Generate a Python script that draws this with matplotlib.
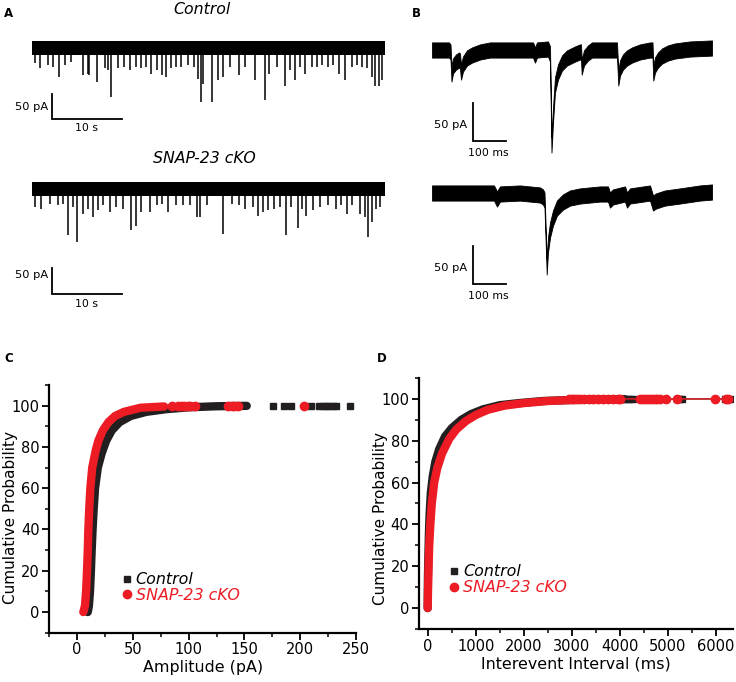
import numpy as np
import matplotlib.pyplot as plt
from matplotlib.lines import Line2D

VERMELHO = '#ED1C24'
PRETO = '#231F20'

# ---------------------------------------------------------------------------
# Dados
# ---------------------------------------------------------------------------
# A - eventos espontâneos (tempo em s, amplitude em pA), traço Controle
ctrl_t = [0.47, 1.1, 2.3, 3.0, 3.8, 4.7, 5.6, 7.3, 8.0, 8.2, 9.3, 10.4, 10.9,
          11.3, 12.3, 13.2, 14.0, 14.9, 15.6, 16.3, 17.0, 17.8, 18.5, 19.2,
          19.9, 20.6, 21.3, 22.3, 23.2, 23.7, 24.1, 24.4, 25.7, 26.6, 27.3,
          28.3, 29.5, 30.4, 31.9, 33.3, 33.8, 35.0, 36.1, 36.9, 37.5, 38.3,
          39.0, 40.0, 40.7, 41.4, 42.3, 43.0, 43.8, 44.7, 45.7, 46.4, 47.1,
          47.8, 48.5, 49.0, 49.5, 50.0]
ctrl_amp = [-31, -41, -35, -38, -59, -35, -28, -55, -52, -55, -69, -41, -45,
            -99, -41, -38, -45, -38, -41, -38, -52, -45, -55, -59, -41, -38,
            -38, -35, -38, -62, -110, -72, -110, -65, -59, -38, -55, -38, -65,
            -106, -52, -38, -76, -45, -65, -38, -52, -38, -38, -35, -38, -35,
            -52, -65, -38, -35, -38, -41, -59, -76, -76, -65]

# A - traço SNAP-23 cKO
cko_t = [0.4, 1.3, 2.5, 3.7, 4.4, 5.1, 5.9, 6.4, 7.3, 8.0, 8.7, 9.4, 10.1,
         11.1, 12.0, 13.0, 14.2, 14.9, 15.6, 16.8, 17.8, 18.5, 19.4, 20.6,
         21.6, 22.5, 23.5, 24.0, 25.0, 27.3, 28.5, 29.5, 30.4, 31.5, 32.3,
         33.0, 33.7, 34.6, 35.4, 36.3, 37.0, 38.0, 38.6, 39.2, 40.1, 41.1,
         42.3, 43.4, 44.2, 45.0, 45.7, 46.9, 47.6, 48.0, 48.5, 49.2, 49.7]
cko_amp = [-37, -40, -30, -33, -30, -94, -37, -108, -50, -40, -57, -43, -33,
           -47, -37, -40, -84, -74, -47, -47, -33, -30, -47, -33, -33, -33,
           -57, -57, -33, -91, -30, -33, -40, -37, -54, -47, -43, -40, -37,
           -94, -37, -78, -40, -54, -43, -37, -33, -40, -33, -50, -33, -50,
           -57, -98, -67, -40, -37]

# B - traços expandidos (tempo em ms, corrente média em pA)
b_ctrl_t = [0, 52, 56.6, 59.6, 64.2, 73.4, 82.6, 85.6, 88.7, 94.8, 107, 122.3,
            146.8, 177.4, 308.9, 315, 321, 354.7, 360.9, 365.4, 370, 376.1,
            385.3, 397.6, 412.8, 437.3, 452.6, 455.7, 457.8, 464.8, 477.1,
            489.3, 565.7, 569.7, 574.9, 584.1, 596.3, 611.6, 636.1, 666.7,
            674.3, 676.8, 682, 691.1, 703.4, 721.7, 743, 789, 856.3]
b_ctrl_i = [0, 0, -2.6, -31.6, -21, -15.8, -13.2, -14.5, -29, -18.4, -10.5,
            -6.6, -2.6, 0, 0, -6.6, 0, 1.3, -5.3, -125, -85.5, -46, -29, -17.1,
            -10.5, -5.3, -2.6, -2.6, -22.4, -10.5, -3.9, 0, 0, -36.8, -23.7,
            -15.8, -10.5, -6.6, -2.6, 0, 0, -30.3, -19.7, -13.2, -7.9, -3.9,
            -1.3, 1.3, 2.6]

b_cko_t = [0, 116.2, 189.6, 198.8, 208, 269.2, 330.3, 339.4, 344, 350.8,
           354.7, 360.9, 370, 382.3, 400.6, 422, 452.6, 513.8, 538.2, 544.3,
           553.5, 590.2, 596.3, 605.5, 666.7, 675.8, 685, 712.5, 758.4,
           819.6, 856.3]
b_cko_i = [1.3, 1.3, 1.3, -6.6, 0, 1.3, -1.3, -3.9, -7.9, -96, -67, -47.4,
           -31.6, -18.4, -10.5, -5.3, -2.6, 0, 0, -7.9, -3.9, 0, -7.9, -2.6,
           1.3, -11.8, -9.2, -5.3, -2.6, 1.3, 2.6]

# C - distribuição cumulativa das amplitudes (pA, %)
amp_ctrl_x = [9.5, 10.5, 11.5, 12.3, 13, 13.8, 14.8, 16, 18.5, 22, 26, 31, 38,
              48, 62, 80, 100, 125, 152]
amp_ctrl_y = [0, 3, 10, 20, 30, 40, 50, 60, 70, 77, 83, 88, 92, 95, 97, 98.3,
              99.2, 99.7, 99.9]
amp_ctrl_cauda = [176, 185, 192, 210, 217, 220, 223, 226, 229, 232, 245]

amp_cko_x = [5.5, 7, 8, 8.8, 9.5, 10, 10.8, 11.8, 13.5, 16.5, 19, 23, 28, 34,
             42, 57, 78]
amp_cko_y = [0, 3, 10, 20, 30, 40, 50, 60, 70, 78, 83, 88, 92, 95, 97, 99,
             99.6]
amp_cko_cauda = [85, 90, 93, 96, 99, 101, 106, 135, 139, 141, 144, 203]

# D - distribuição cumulativa dos intervalos entre eventos (ms, %)
iei_ctrl_x = [0, 5, 15, 25, 40, 65, 105, 160, 240, 360, 500, 700, 900, 1150,
              1500, 1900, 2400, 3000, 3600, 4100]
iei_ctrl_y = [0, 15, 25, 35, 45, 55, 63, 70, 76, 82, 86, 90, 92.7, 95, 97, 98,
              99, 99.5, 99.8, 99.9]
iei_ctrl_cauda = [4110, 4160, 4210, 4270, 5190, 5240, 5290, 6180, 6230, 6290]

iei_cko_x = [0, 8, 18, 32, 55, 85, 135, 200, 300, 450, 600, 800, 1000, 1250,
             1600, 2000, 2500, 2900]
iei_cko_y = [0, 10, 20, 30, 40, 50, 60, 67, 74, 81, 85.5, 89.5, 92.3, 94.8,
             96.8, 98, 99, 99.4]
iei_cko_cauda = [2950, 3000, 3050, 3100, 3170, 3250, 3350, 3450, 3550, 3650,
                 3750, 3850, 3950, 4000, 4420, 4480, 4540, 4600, 4660, 4720,
                 4780, 4830, 4950, 5180, 5980, 6200, 6256]

# ---------------------------------------------------------------------------
W, H = 736, 682
fig = plt.figure(figsize=(W / 100, H / 100), dpi=100)


def eixo_px(x0, y0, x1, y1):
    # cria um eixo a partir de coordenadas em pixels (origem no canto superior)
    return fig.add_axes([x0 / W, 1 - y1 / H, (x1 - x0) / W, (y1 - y0) / H])


def eixo_traco(caixa, ox, oy, px_x, px_y):
    x0, y0, x1, y1 = caixa
    ax = eixo_px(x0, y0, x1, y1)
    ax.set_xlim((x0 - ox) / px_x, (x1 - ox) / px_x)
    ax.set_ylim((oy - y1) / px_y, (oy - y0) / px_y)
    ax.axis('off')
    return ax


def barra_escala(ax, x, y, dx, dy, txt_y, txt_x, rot_y_pos, rot_x_pos):
    ax.plot([x, x, x + dx], [y + dy, y, y], color='black', lw=1.3,
            solid_joinstyle='miter')
    ax.text(rot_y_pos[0], rot_y_pos[1], txt_y, ha='right', va='center',
            fontsize=8.2)
    ax.text(rot_x_pos[0], rot_x_pos[1], txt_x, ha='center', va='center',
            fontsize=7.8)


def fig_text(px, py, s, **kw):
    fig.text(px / W, 1 - py / H, s, **kw)


# --- Painel A ---
ax_a1 = eixo_traco((0, 20, 400, 150), 32, 48, 7.0, 0.494)
ax_a1.fill_between([0, 50.4], -14, 15, color='black', lw=0)
ax_a1.vlines(ctrl_t, 0, ctrl_amp, color='black', lw=1.1)
barra_escala(ax_a1, 2.8, -143.7, 10, 50, '50 pA', '10 s', (2.3, -120), (7.8, -162))

ax_a2 = eixo_traco((0, 165, 400, 315), 32, 189, 7.0, 0.494)
ax_a2.fill_between([0, 50.4], -14, 15, color='black', lw=0)
ax_a2.vlines(cko_t, 0, cko_amp, color='black', lw=1.1)
barra_escala(ax_a2, 2.8, -212, 10, 52, '50 pA', '10 s', (2.3, -174), (7.8, -233))

# --- Painel B ---
ax_b1 = eixo_traco((400, 20, 736, 165), 432, 50, 0.327, 0.76)
ax_b1.fill_between(b_ctrl_t, np.array(b_ctrl_i) - 10, np.array(b_ctrl_i) + 10,
                   color='black', lw=0.6, edgecolor='black')
barra_escala(ax_b1, 126.3, -119.3, 100, 50, '50 pA', '100 ms', (106, -98.7), (172, -135))

ax_b2 = eixo_traco((400, 165, 736, 310), 432, 194, 0.327, 0.76)
ax_b2.fill_between(b_cko_t, np.array(b_cko_i) - 10, np.array(b_cko_i) + 10,
                   color='black', lw=0.6, edgecolor='black')
barra_escala(ax_b2, 126.3, -118.4, 100, 50, '50 pA', '100 ms', (106, -97.8), (172, -134))

fig_text(201.7, 9, 'Control', ha='center', va='center', fontsize=11.3, style='italic')
fig_text(204, 158.5, 'SNAP-23 cKO', ha='center', va='center', fontsize=11.3, style='italic')
for letra, (lx, ly) in {'A': (8.3, 13.3), 'B': (416.7, 13.3),
                        'C': (8.3, 358), 'D': (382, 358)}.items():
    fig_text(lx, ly, letra, ha='center', va='center', fontsize=8.5, weight='bold')


# --- Painéis C e D ---
def estilo_cdf(ax, xlab):
    for lado in ['top', 'right']:
        ax.spines[lado].set_visible(False)
    for lado in ['left', 'bottom']:
        ax.spines[lado].set_linewidth(1.6)
    ax.tick_params(which='major', direction='out', length=5, width=1.3,
                   labelsize=10.5, colors='black', pad=2)
    ax.tick_params(which='minor', direction='out', length=3, width=1.1)
    ax.set_ylim(-10, 110)
    ax.set_yticks(range(0, 101, 20))
    ax.set_yticks(range(-10, 111, 10), minor=True)
    ax.set_ylabel('Cumulative Probability', fontsize=11)
    ax.set_xlabel(xlab, fontsize=11.4, labelpad=2)


def legenda(ax, bbox):
    alcas = [Line2D([], [], ls='none', marker='s', ms=5, color=PRETO),
             Line2D([], [], ls='none', marker='o', ms=6, color=VERMELHO)]
    leg = ax.legend(alcas, ['Control', 'SNAP-23 cKO'], loc='lower left',
                    bbox_to_anchor=bbox, frameon=False, handlelength=0.5,
                    handletextpad=0.3, labelspacing=0.05, borderpad=0,
                    borderaxespad=0, prop={'size': 11.4, 'style': 'italic'})
    leg.get_texts()[1].set_color(VERMELHO)


ax_c = eixo_px(49.3, 385, 356, 632.7)
ax_c.plot(amp_ctrl_x, amp_ctrl_y, color=PRETO, lw=6, solid_capstyle='round')
ax_c.plot(amp_ctrl_cauda, [100] * len(amp_ctrl_cauda), ls='none', marker='s',
          ms=5, color=PRETO)
ax_c.plot(amp_cko_x, amp_cko_y, color=VERMELHO, lw=6, solid_capstyle='round')
ax_c.plot(amp_cko_cauda, [100] * len(amp_cko_cauda), ls='none', marker='o',
          ms=6, color=VERMELHO)
estilo_cdf(ax_c, 'Amplitude (pA)')
ax_c.set_xlim(-20, 250)
ax_c.set_xticks(range(0, 251, 50))
ax_c.set_xticks(range(-25, 251, 25), minor=True)
ax_c.yaxis.set_label_coords(-0.103, 0.465)
legenda(ax_c, (0.24, 0.12))

ax_d = eixo_px(419, 378, 732.7, 629)
ax_d.plot(iei_ctrl_x + iei_ctrl_cauda, iei_ctrl_y + [100] * len(iei_ctrl_cauda),
          color=PRETO, lw=1)
ax_d.plot(iei_ctrl_x, iei_ctrl_y, color=PRETO, lw=6, solid_capstyle='round')
ax_d.plot(iei_ctrl_cauda, [100] * len(iei_ctrl_cauda), ls='none', marker='s',
          ms=5, color=PRETO)
ax_d.plot(iei_cko_x + iei_cko_cauda, iei_cko_y + [100] * len(iei_cko_cauda),
          color=VERMELHO, lw=1)
ax_d.plot(iei_cko_x, iei_cko_y, color=VERMELHO, lw=6, solid_capstyle='round')
ax_d.plot(iei_cko_cauda, [100] * len(iei_cko_cauda), ls='none', marker='o',
          ms=6, color=VERMELHO)
estilo_cdf(ax_d, 'Interevent Interval (ms)')
ax_d.set_xlim(-181, 6347)
ax_d.set_xticks(range(0, 6001, 1000))
ax_d.set_xticks(range(0, 6001, 500), minor=True)
ax_d.yaxis.set_label_coords(-0.099, 0.44)
legenda(ax_d, (0.1, 0.135))

plt.savefig('out.png', dpi=100)
